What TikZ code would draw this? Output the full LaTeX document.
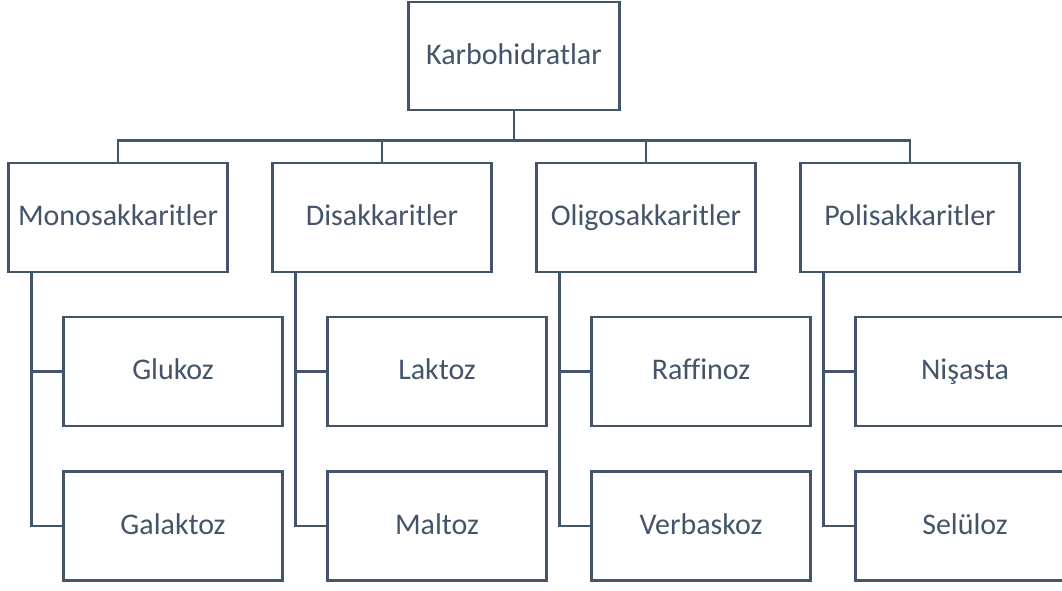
\documentclass[tikz,border=0pt]{standalone}
\usepackage{fontspec}
\setmainfont{Carlito}[Ligatures=NoCommon]
\usetikzlibrary{calc}
\definecolor{slate}{HTML}{44546A}
\tikzset{
  box/.style={draw=slate,line width=2.6pt,fill=white,text=slate,inner sep=0pt,
    minimum width=219pt,minimum height=109pt,text height=21pt,text depth=5pt,
    font=\fontsize{30}{36}\selectfont},
  link/.style={draw=slate,line width=2.6pt}
}
\begin{document}
\begin{tikzpicture}[x=1pt,y=-1pt]
		\def\dx{264}
		\useasboundingbox (0,0) rectangle (1062,590);
		\fill[white] (0,0) rectangle (1062,590);
		\clip (0,0) rectangle (1062,590);
		\node[box,minimum width=211pt,minimum height=108pt] (K) at (514,56) {Karbohidratlar};
		\foreach \x/\t/\ta/\tb [count=\i from 0] in {M/Monosakkaritler/Glukoz/Galaktoz,D/Disakkaritler/Laktoz/Maltoz,O/Oligosakkaritler/Raffinoz/Verbaskoz,P/Polisakkaritler/Nişasta/Selüloz}{
			\node[box] (\x) at (118+\dx*\i,217.5) {\t};
			\node[box] (\x_1) at (173+\dx*\i,371.5) {\ta};
			\node[box] (\x_2) at (173+\dx*\i,526) {\tb};
			\draw[link] (K.south) -- ++(0,29) -| (\x.north);
			\draw[link] ([xshift=24pt]\x.south west) |- (\x_1.west) ([xshift=24pt]\x.south west) |- (\x_2.west);
		}
	\end{tikzpicture}
\end{document}
